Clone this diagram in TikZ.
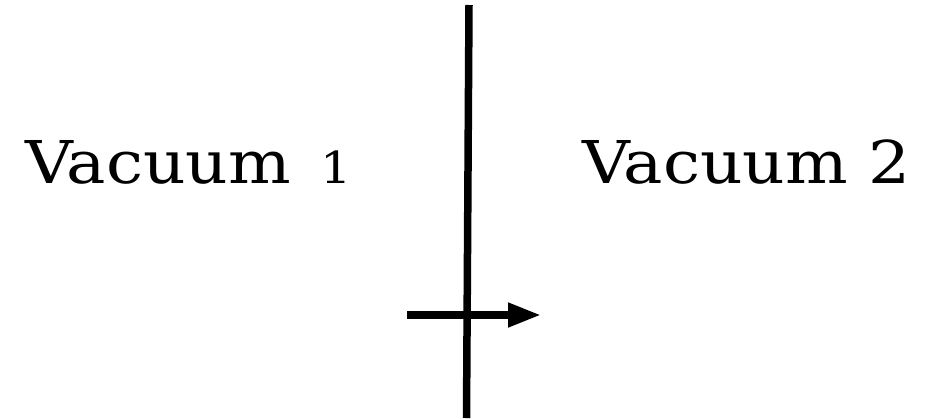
\documentclass[tikz,border=0pt]{standalone}
\usepackage{fontspec}
\setmainfont{DejaVu Serif}
\usetikzlibrary{arrows.meta}
\newcommand{\osone}{{\fontsize{44}{44}\selectfont 1}}
\begin{document}
\begin{tikzpicture}[x=1pt,y=-1pt,
  label/.style={anchor=base west,inner sep=0pt,font=\fontsize{59}{59}\selectfont},
  wall/.style={line width=7.5pt},
  flow/.style={line width=7.5pt,-{Triangle[length=33pt,width=23pt]}}]
\useasboundingbox (0,0) rectangle (932,418);
\node[label] (v1) at (25,183) {\scalebox{1.12}[1]{Vacuum\hspace{0.45em}\osone}};
\node[label] (v2) at (582,183) {\scalebox{1.12}[1]{Vacuum 2}};
\coordinate (wtop) at (469,5);
\coordinate (wbot) at (466.5,418);
\draw[wall] (wtop) -- (wbot);
\coordinate (a1) at (407,315);
\coordinate (a2) at (541,315);
\draw[flow] (a1) -- (a2);
\end{tikzpicture}
\end{document}
